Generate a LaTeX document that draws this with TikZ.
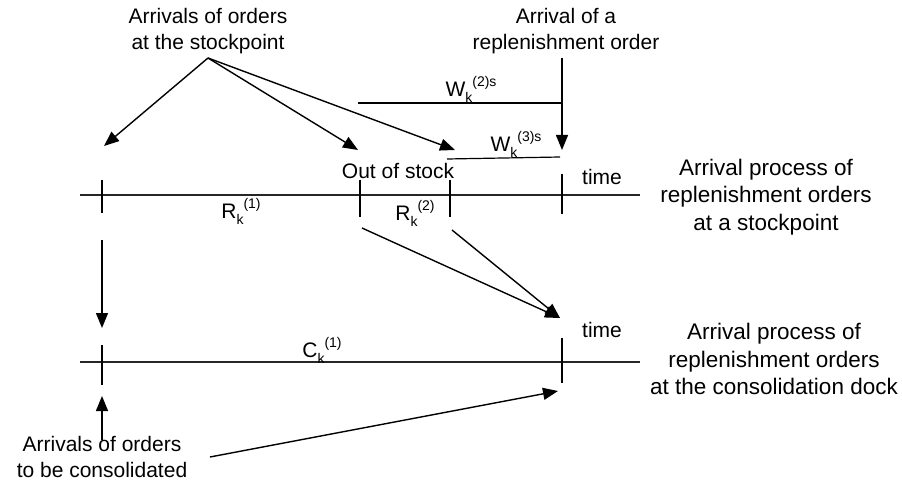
\documentclass[tikz,border=0pt]{standalone}
\usepackage{fontspec}
\setmainfont{Liberation Sans}
\usetikzlibrary{arrows.meta,positioning,calc}
\newcommand{\indexed}[3]{#1\raisebox{-0.5ex}{\fontsize{14}{14}\selectfont #2}\raisebox{0.95ex}{\fontsize{14}{14}\selectfont #3}}

\begin{document}
\begin{tikzpicture}[x=1pt,y=-1pt,>={Triangle[length=15pt,width=12pt]},
 every node/.style={font=\fontsize{21}{26}\selectfont},
 caption/.style={align=center,inner sep=0pt},
 process/.style={caption,font=\fontsize{22.5}{27.5}\selectfont},
 axis/.style={line width=1.3pt,black!85},
 tick/.style={line width=1.5pt},
 arrow/.style={->,line width=1.4pt}]
\useasboundingbox (0,0) rectangle (902,489);
% time axes
\coordinate (top0) at (80,195);  \coordinate (top1) at (640,195);
\coordinate (bot0) at (80,362);  \coordinate (bot1) at (640,362);
\draw[axis] (top0) -- (top1);
\draw[axis] (bot0) -- (bot1);
% ticks
\foreach \name/\x/\ya/\yb in {ta/102/180/213,tb/360/180/217,tc/450/180/217,td/562/174/214,
                            ba/102/345/385,bd/562/338/383}{
  \coordinate (\name1) at (\x,\ya); \coordinate (\name2) at (\x,\yb);
  \draw[tick] (\name1) -- (\name2);
}
% labels
\node[caption] (arr) at (208,31) {Arrivals of orders\\at the stockpoint};
\node[caption] (repl) at (566,31) {Arrival of a\\replenishment order};
\node[caption] (oos) at (398,171) {Out of stock};
\node[caption] (time1) at (602,177) {time};
\node[caption] (time2) at (602,330) {time};
\node[process] (proc1) at (766,197) {Arrival process of\\replenishment orders\\at a stockpoint};
\node[process] (proc2) at (774,359) {Arrival process of\\replenishment orders\\at the consolidation dock};
\node[caption] (cons) at (102,457) {Arrivals of orders\\to be consolidated};
\node[caption] (r1) at (241,211) {\indexed{R}{k}{(1)}};
\node[caption] (r2) at (415,213) {\indexed{R}{k}{(2)}};
\node[caption] (c1) at (322,350) {\indexed{C}{k}{(1)}};
\node[caption] (w2) at (471,89) {\indexed{W}{k}{(2)s}};
\node[caption] (w3) at (516,144) {\indexed{W}{k}{(3)s}};
% waiting times
\coordinate (w2a) at (358,103); \coordinate (w2b) at (562,103);
\coordinate (w3a) at (447,159); \coordinate (w3b) at (560,157);
\draw[tick] (w2a) -- (w2b);
\draw[line width=1.2pt] (w3a) -- (w3b);
% arrows from the top labels
\coordinate (arrS) at (208,58);
\draw[arrow] (arrS) -- (104,146);
\draw[arrow] (arrS) -- (358,150);
\draw[arrow] (arrS) -- (455,150);
\coordinate (replS) at (562,58);
\draw[arrow] (replS) -- (562,150);
% arrows between the two processes
\coordinate (dock) at (560,318);
\draw[arrow] (102,240) -- (102,328);
\draw[arrow] (362,228) -- (dock);
\draw[arrow] (452,230) -- (dock);
% arrows from the bottom label
\draw[arrow] (102,440) -- (102,396);
\draw[arrow] (210,457) -- (558,391);
\end{tikzpicture}
\end{document}
